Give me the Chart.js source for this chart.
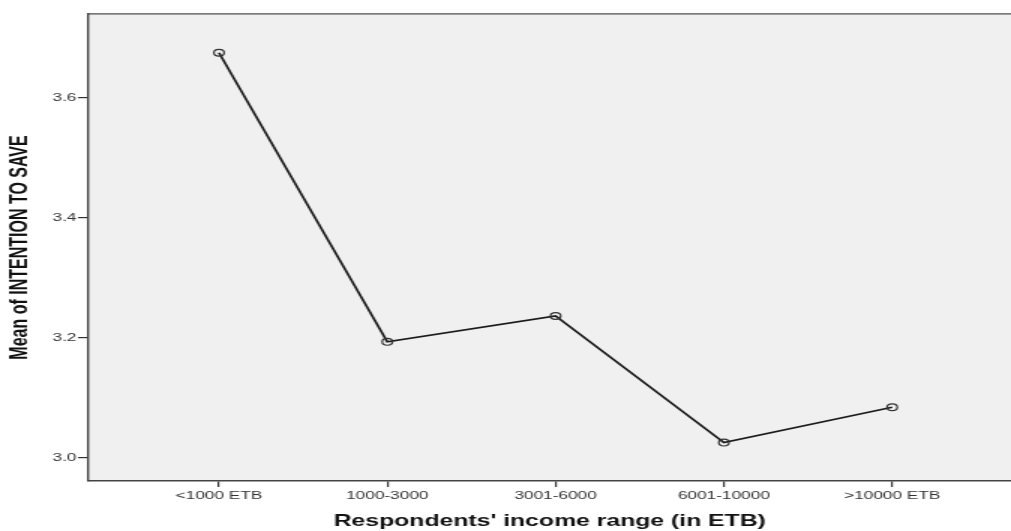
<!DOCTYPE html>
<html>
<head>
<meta charset="utf-8">
<script src="https://cdn.jsdelivr.net/npm/chart.js@4/dist/chart.umd.min.js"></script>
<style>
  html, body { margin: 0; padding: 0; background: #ffffff; overflow: hidden; }
  /* the chart is laid out narrow and widened horizontally, as in the original export */
  #wrap { position: absolute; left: 0; top: 0; width: 674px; height: 531px;
          transform: scaleX(1.5); transform-origin: 0 0; }
</style>
</head>
<body>
<div id="wrap"><canvas id="c" width="674" height="531"></canvas></div>
<script>
// Income brackets and the mean intention-to-save score in each
const categories = ['<1000 ETB', '1000-3000', '3001-6000', '6001-10000', '>10000 ETB'];
const meanIntention = [3.675, 3.193, 3.236, 3.025, 3.084];
const yTicks = [3.0, 3.2, 3.4, 3.6];

const points = categories.map((c, i) => ({ x: i + 1, y: meanIntention[i] }));

// shaded plot area with a frame band along its top edge
const frame = {
  id: 'frame',
  beforeDraw(chart) {
    const { ctx, chartArea: a } = chart;
    ctx.save();
    ctx.fillStyle = '#f0f0f0';
    ctx.fillRect(a.left, a.top, a.right - a.left, a.bottom - a.top);
    ctx.fillStyle = '#7a7a7a';
    ctx.fillRect(a.left, a.top - 1, a.right - a.left, 1.7);
    ctx.restore();
  }
};

new Chart(document.getElementById('c'), {
  type: 'line',
  data: {
    datasets: [{
      data: points,
      borderColor: '#1a1a1a',
      borderWidth: 1.7,
      tension: 0,
      pointRadius: 3.4,
      pointBorderWidth: 1.2,
      pointBorderColor: '#333333',
      pointBackgroundColor: 'rgba(0,0,0,0)',
      pointHoverRadius: 3.4
    }]
  },
  options: {
    responsive: false,
    animation: false,
    devicePixelRatio: 1,
    layout: { autoPadding: false, padding: { left: 0, right: 0, top: 14, bottom: 0 } },
    plugins: { legend: { display: false }, tooltip: { enabled: false } },
    scales: {
      x: {
        type: 'linear',
        min: 0.2246,
        max: 5.706,
        afterBuildTicks(scale) { scale.ticks = categories.map((c, i) => ({ value: i + 1 })); },
        afterFit(scale) { scale.height = 50; scale.paddingLeft = 0; scale.paddingRight = 0; },
        grid: { drawOnChartArea: false, tickLength: 6, color: '#333333', lineWidth: 1.2 },
        border: { color: '#444444', width: 1.6 },
        ticks: {
          autoSkip: false, maxRotation: 0, padding: 2,
          color: '#333333',
          font: { family: 'Liberation Sans, Arial, sans-serif', size: 11.5 },
          callback: (v) => categories[v - 1]
        },
        title: {
          display: true,
          text: "Respondents' income range (in ETB)",
          color: '#111111',
          font: { family: 'Liberation Sans, Arial, sans-serif', size: 16.5, weight: 'bold' },
          padding: { top: 0, bottom: 0 }
        }
      },
      y: {
        type: 'linear',
        min: 2.961,
        max: 3.7395,
        afterBuildTicks(scale) { scale.ticks = yTicks.map(v => ({ value: v })); },
        afterFit(scale) { scale.width = 59; },
        grid: { drawOnChartArea: false, tickLength: 7, color: '#333333', lineWidth: 1.2 },
        border: { color: '#444444', width: 1.4 },
        ticks: {
          padding: 1,
          color: '#333333',
          font: { family: 'Liberation Sans, Arial, sans-serif', size: 11.5 },
          callback: (v) => Number(v).toFixed(1)
        },
        title: {
          display: true,
          text: 'Mean of INTENTION TO SAVE',
          color: '#111111',
          font: { family: 'Liberation Sans, Arial, sans-serif', size: 16, weight: 'bold' },
          padding: { top: 4, bottom: 4 }
        }
      }
    }
  },
  plugins: [frame]
});
</script>
</body>
</html>
